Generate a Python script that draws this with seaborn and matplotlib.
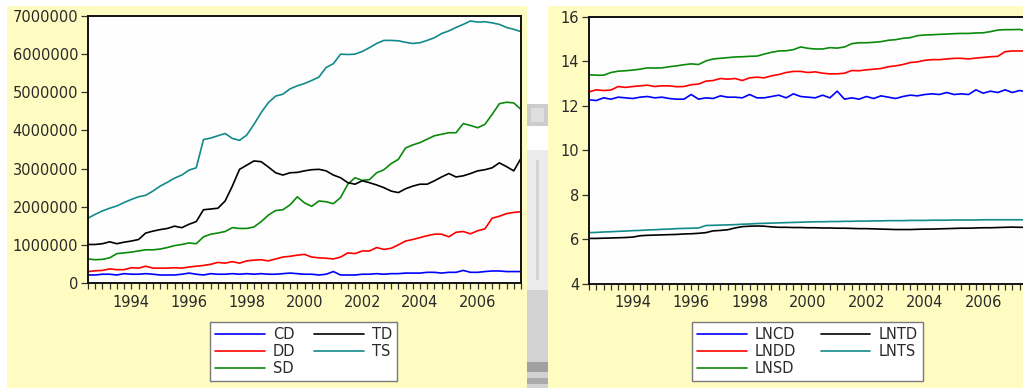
import numpy as np
import pandas as pd
import matplotlib
matplotlib.use("Agg")
import matplotlib.pyplot as plt
from matplotlib.patches import Rectangle
from matplotlib.ticker import FixedLocator, FuncFormatter
import seaborn as sns

# ---------------------------------------------------------------------------
# Quarterly observations, 1992Q3 .. 2007Q3 (decimal years)
# ---------------------------------------------------------------------------
first_year = 1992.5
n_obs = 61
years = first_year + 0.25 * np.arange(n_obs)

# Deposit levels (millions)
cd_m = [0.21, 0.21, 0.23, 0.23, 0.21, 0.245, 0.23, 0.23, 0.245, 0.23,
        0.21, 0.21, 0.21, 0.23, 0.26, 0.23, 0.21, 0.245, 0.23, 0.23,
        0.245, 0.23, 0.245, 0.23, 0.245, 0.23, 0.23, 0.245, 0.26, 0.245,
        0.23, 0.23, 0.21, 0.23, 0.30, 0.21, 0.21, 0.21, 0.23, 0.23,
        0.245, 0.23, 0.245, 0.245, 0.26, 0.26, 0.26, 0.28, 0.28, 0.26,
        0.28, 0.28, 0.33, 0.28, 0.28, 0.30, 0.315, 0.315, 0.30, 0.30,
        0.30]
dd_m = [0.30, 0.32, 0.33, 0.37, 0.35, 0.35, 0.40, 0.39, 0.44, 0.39,
        0.39, 0.39, 0.40, 0.39, 0.42, 0.44, 0.46, 0.49, 0.54, 0.52,
        0.56, 0.52, 0.58, 0.60, 0.61, 0.58, 0.63, 0.68, 0.70, 0.73,
        0.75, 0.68, 0.66, 0.65, 0.63, 0.68, 0.79, 0.77, 0.84, 0.84,
        0.93, 0.88, 0.91, 1.00, 1.10, 1.14, 1.19, 1.24, 1.28, 1.28,
        1.21, 1.33, 1.35, 1.29, 1.37, 1.42, 1.70, 1.75, 1.82, 1.85,
        1.87]
sd_m = [0.63, 0.61, 0.62, 0.66, 0.77, 0.79, 0.81, 0.84, 0.87, 0.87,
        0.89, 0.93, 0.98, 1.01, 1.05, 1.03, 1.21, 1.28, 1.31, 1.35,
        1.45, 1.43, 1.43, 1.47, 1.61, 1.78, 1.90, 1.92, 2.05, 2.26,
        2.10, 2.01, 2.15, 2.13, 2.08, 2.24, 2.59, 2.76, 2.69, 2.71,
        2.89, 2.97, 3.13, 3.24, 3.54, 3.62, 3.68, 3.77, 3.86, 3.90,
        3.94, 3.94, 4.18, 4.13, 4.07, 4.16, 4.42, 4.70, 4.74, 4.72,
        4.55]
td_m = [1.01, 1.01, 1.03, 1.08, 1.03, 1.07, 1.10, 1.14, 1.31, 1.36,
        1.40, 1.43, 1.49, 1.45, 1.54, 1.61, 1.92, 1.94, 1.96, 2.15,
        2.54, 2.98, 3.09, 3.20, 3.18, 3.04, 2.89, 2.83, 2.89, 2.90,
        2.94, 2.97, 2.98, 2.94, 2.83, 2.76, 2.63, 2.59, 2.68, 2.63,
        2.57, 2.50, 2.41, 2.37, 2.47, 2.54, 2.59, 2.59, 2.68, 2.78,
        2.87, 2.78, 2.81, 2.87, 2.94, 2.97, 3.02, 3.15, 3.05, 2.94,
        3.27]
ts_m = [1.70, 1.80, 1.89, 1.96, 2.02, 2.11, 2.19, 2.26, 2.30, 2.41,
        2.54, 2.64, 2.75, 2.83, 2.96, 3.02, 3.76, 3.80, 3.86, 3.92,
        3.79, 3.74, 3.88, 4.16, 4.47, 4.73, 4.90, 4.95, 5.09, 5.17,
        5.23, 5.31, 5.40, 5.65, 5.75, 6.00, 5.99, 6.00, 6.07, 6.17,
        6.28, 6.36, 6.36, 6.35, 6.31, 6.28, 6.30, 6.36, 6.43, 6.54,
        6.61, 6.70, 6.78, 6.87, 6.84, 6.85, 6.82, 6.78, 6.70, 6.65,
        6.59]

# Log series
lncd = [12.27, 12.24, 12.36, 12.30, 12.39, 12.36, 12.33, 12.39, 12.42, 12.36,
        12.39, 12.33, 12.30, 12.30, 12.51, 12.30, 12.36, 12.33, 12.45, 12.39,
        12.39, 12.36, 12.51, 12.36, 12.36, 12.42, 12.48, 12.36, 12.54, 12.42,
        12.39, 12.36, 12.48, 12.36, 12.66, 12.30, 12.36, 12.30, 12.42, 12.33,
        12.45, 12.39, 12.33, 12.42, 12.48, 12.45, 12.51, 12.54, 12.51, 12.60,
        12.51, 12.54, 12.51, 12.72, 12.57, 12.66, 12.60, 12.72, 12.60, 12.69,
        12.63]
lndd = [12.63, 12.72, 12.69, 12.71, 12.87, 12.83, 12.87, 12.90, 12.93, 12.87,
        12.90, 12.90, 12.86, 12.87, 12.95, 12.98, 13.11, 13.14, 13.23, 13.20,
        13.23, 13.14, 13.26, 13.29, 13.26, 13.35, 13.41, 13.50, 13.55, 13.55,
        13.50, 13.53, 13.47, 13.44, 13.44, 13.47, 13.59, 13.58, 13.62, 13.65,
        13.68, 13.76, 13.80, 13.86, 13.95, 13.98, 14.05, 14.08, 14.08, 14.11,
        14.14, 14.14, 14.11, 14.15, 14.18, 14.21, 14.23, 14.44, 14.47, 14.47,
        14.48]
lnsd = [13.40, 13.38, 13.38, 13.50, 13.56, 13.58, 13.61, 13.65, 13.71, 13.70,
        13.71, 13.76, 13.80, 13.85, 13.89, 13.86, 14.02, 14.11, 14.14, 14.17,
        14.20, 14.21, 14.23, 14.24, 14.33, 14.41, 14.47, 14.48, 14.53, 14.65,
        14.59, 14.56, 14.56, 14.62, 14.60, 14.65, 14.80, 14.84, 14.84, 14.86,
        14.89, 14.95, 14.98, 15.04, 15.07, 15.16, 15.19, 15.20, 15.22, 15.23,
        15.25, 15.26, 15.26, 15.28, 15.29, 15.34, 15.41, 15.43, 15.43, 15.44,
        15.37]
lntd = [6.03, 6.03, 6.04, 6.05, 6.06, 6.07, 6.09, 6.15, 6.17, 6.18,
        6.19, 6.20, 6.21, 6.23, 6.24, 6.26, 6.29, 6.37, 6.39, 6.42,
        6.50, 6.56, 6.58, 6.59, 6.58, 6.55, 6.53, 6.53, 6.52, 6.52,
        6.51, 6.51, 6.50, 6.50, 6.49, 6.49, 6.48, 6.47, 6.47, 6.46,
        6.45, 6.44, 6.43, 6.43, 6.43, 6.44, 6.45, 6.45, 6.46, 6.47,
        6.48, 6.49, 6.49, 6.50, 6.51, 6.51, 6.52, 6.53, 6.54, 6.53,
        6.53]
lnts = [6.29, 6.30, 6.32, 6.33, 6.35, 6.36, 6.38, 6.39, 6.41, 6.42,
        6.44, 6.45, 6.47, 6.48, 6.49, 6.50, 6.61, 6.62, 6.63, 6.64,
        6.65, 6.67, 6.68, 6.70, 6.71, 6.72, 6.73, 6.74, 6.75, 6.76,
        6.77, 6.78, 6.78, 6.79, 6.79, 6.80, 6.80, 6.81, 6.81, 6.82,
        6.82, 6.83, 6.83, 6.83, 6.84, 6.84, 6.84, 6.85, 6.85, 6.85,
        6.86, 6.86, 6.86, 6.86, 6.87, 6.87, 6.87, 6.87, 6.87, 6.87,
        6.87]

level_names = ["CD", "DD", "SD", "TD", "TS"]
log_names = ["LNCD", "LNDD", "LNSD", "LNTD", "LNTS"]
year_labels = [1994, 1996, 1998, 2000, 2002, 2004, 2006]

line_colors = ["#0000ff", "#ff0000", "#0a8a0a", "#000000", "#128a8a"]

# ---------------------------------------------------------------------------
# Long-form frames
# ---------------------------------------------------------------------------
levels = pd.DataFrame({"year": years,
                       "CD": np.array(cd_m) * 1e6,
                       "DD": np.array(dd_m) * 1e6,
                       "SD": np.array(sd_m) * 1e6,
                       "TD": np.array(td_m) * 1e6,
                       "TS": np.array(ts_m) * 1e6})
logs = pd.DataFrame({"year": years, "LNCD": lncd, "LNDD": lndd,
                     "LNSD": lnsd, "LNTD": lntd, "LNTS": lnts})
levels_long = levels.melt(id_vars="year", var_name="series", value_name="value")
logs_long = logs.melt(id_vars="year", var_name="series", value_name="value")

# ---------------------------------------------------------------------------
# Figure and styling
# ---------------------------------------------------------------------------
sns.set_style("ticks")
plt.rcParams["font.family"] = ["DejaVu Sans"]
plt.rcParams["font.size"] = 10.5

W, H = 1023, 388
fig = plt.figure(figsize=(W / 100, H / 100), dpi=100)
fig.patch.set_facecolor("white")

panel_yellow = "#fffcc2"
text_color = "#2a2a2a"


def fig_rect(x0, y0, x1, y1, **kw):
    """Rectangle given in pixel coordinates measured from the top-left."""
    r = Rectangle((x0 / W, 1 - y1 / H), (x1 - x0) / W, (y1 - y0) / H,
                  transform=fig.transFigure, **kw)
    fig.add_artist(r)
    return r


# panel backgrounds
fig_rect(7, 6, 527, 388, facecolor=panel_yellow, edgecolor="none", zorder=0)
fig_rect(548, 6, 1023, 388, facecolor=panel_yellow, edgecolor="none", zorder=0)

# greyish backdrop between the two panels
fig_rect(527, 104, 548, 126, facecolor="#cccccc", edgecolor="none", zorder=0)
fig_rect(531, 108, 544, 122, facecolor="#dedede", edgecolor="none", zorder=0)
fig_rect(527, 150, 548, 290, facecolor="#ececec", edgecolor="none", zorder=0)
fig_rect(536, 160, 539, 280, facecolor="#d4d4d4", edgecolor="none", zorder=0)
fig_rect(527, 290, 548, 388, facecolor="#d2d2d2", edgecolor="none", zorder=0)
fig_rect(527, 362, 548, 372, facecolor="#a0a0a0", edgecolor="none", zorder=0)
fig_rect(527, 378, 548, 384, facecolor="#aaaaaa", edgecolor="none", zorder=0)

ax1 = fig.add_axes([88 / W, 1 - 283 / H, 433 / W, (283 - 16) / H])
ax2 = fig.add_axes([589 / W, 1 - 283.5 / H, 438 / W, (283.5 - 17) / H])


def draw_panel(ax, data, names, ylim, yticks, legend_x, colspace):
    sns.lineplot(data=data, x="year", y="value", hue="series",
                 hue_order=names, palette=dict(zip(names, line_colors)),
                 linewidth=1.2, ax=ax, legend=True)
    ax.set_facecolor("#fefefe")
    ax.set_xlim(years[0], years[-1])
    ax.set_ylim(*ylim)
    ax.set_xlabel("")
    ax.set_ylabel("")
    ax.yaxis.set_major_locator(FixedLocator(yticks))
    ax.xaxis.set_major_locator(FixedLocator(year_labels))
    ax.xaxis.set_minor_locator(FixedLocator(years))
    ax.xaxis.set_major_formatter(FuncFormatter(lambda v, p: f"{int(round(v))}"))
    ax.yaxis.set_major_formatter(FuncFormatter(lambda v, p: f"{int(round(v))}"))
    for side in ["left", "right", "top", "bottom"]:
        ax.spines[side].set_visible(True)
        ax.spines[side].set_color("#111111")
        ax.spines[side].set_linewidth(1.4)
    ax.tick_params(axis="both", which="both", direction="out", colors="#333333",
                   labelcolor=text_color, labelsize=10.5, width=0.9)
    ax.tick_params(axis="y", length=5, pad=2)
    ax.tick_params(axis="x", which="both", length=4.5, pad=4)

    handles, labels = ax.get_legend_handles_labels()
    leg = ax.legend(handles, labels, ncol=2, loc="upper left",
                    bbox_to_anchor=(legend_x / W, 1 - 322 / H),
                    bbox_transform=fig.transFigure,
                    frameon=True, fancybox=False, shadow=False,
                    handlelength=3.4, handletextpad=0.55,
                    columnspacing=colspace,
                    labelspacing=0.12, borderpad=0.35, borderaxespad=0,
                    fontsize=10.5)
    frame = leg.get_frame()
    frame.set_edgecolor("#7a7a7a")
    frame.set_linewidth(1.0)
    frame.set_facecolor("white")
    frame.set_alpha(1)
    for t in leg.get_texts():
        t.set_color(text_color)
    for line in leg.get_lines():
        line.set_linewidth(1.2)
    return leg


draw_panel(ax1, levels_long, level_names, (0, 7e6),
           np.arange(0, 7e6 + 1, 1e6), 210, 1.3)
draw_panel(ax2, logs_long, log_names, (4, 16),
           np.arange(4, 17, 2), 692, 1.7)

fig.savefig("out.png", dpi=100)
